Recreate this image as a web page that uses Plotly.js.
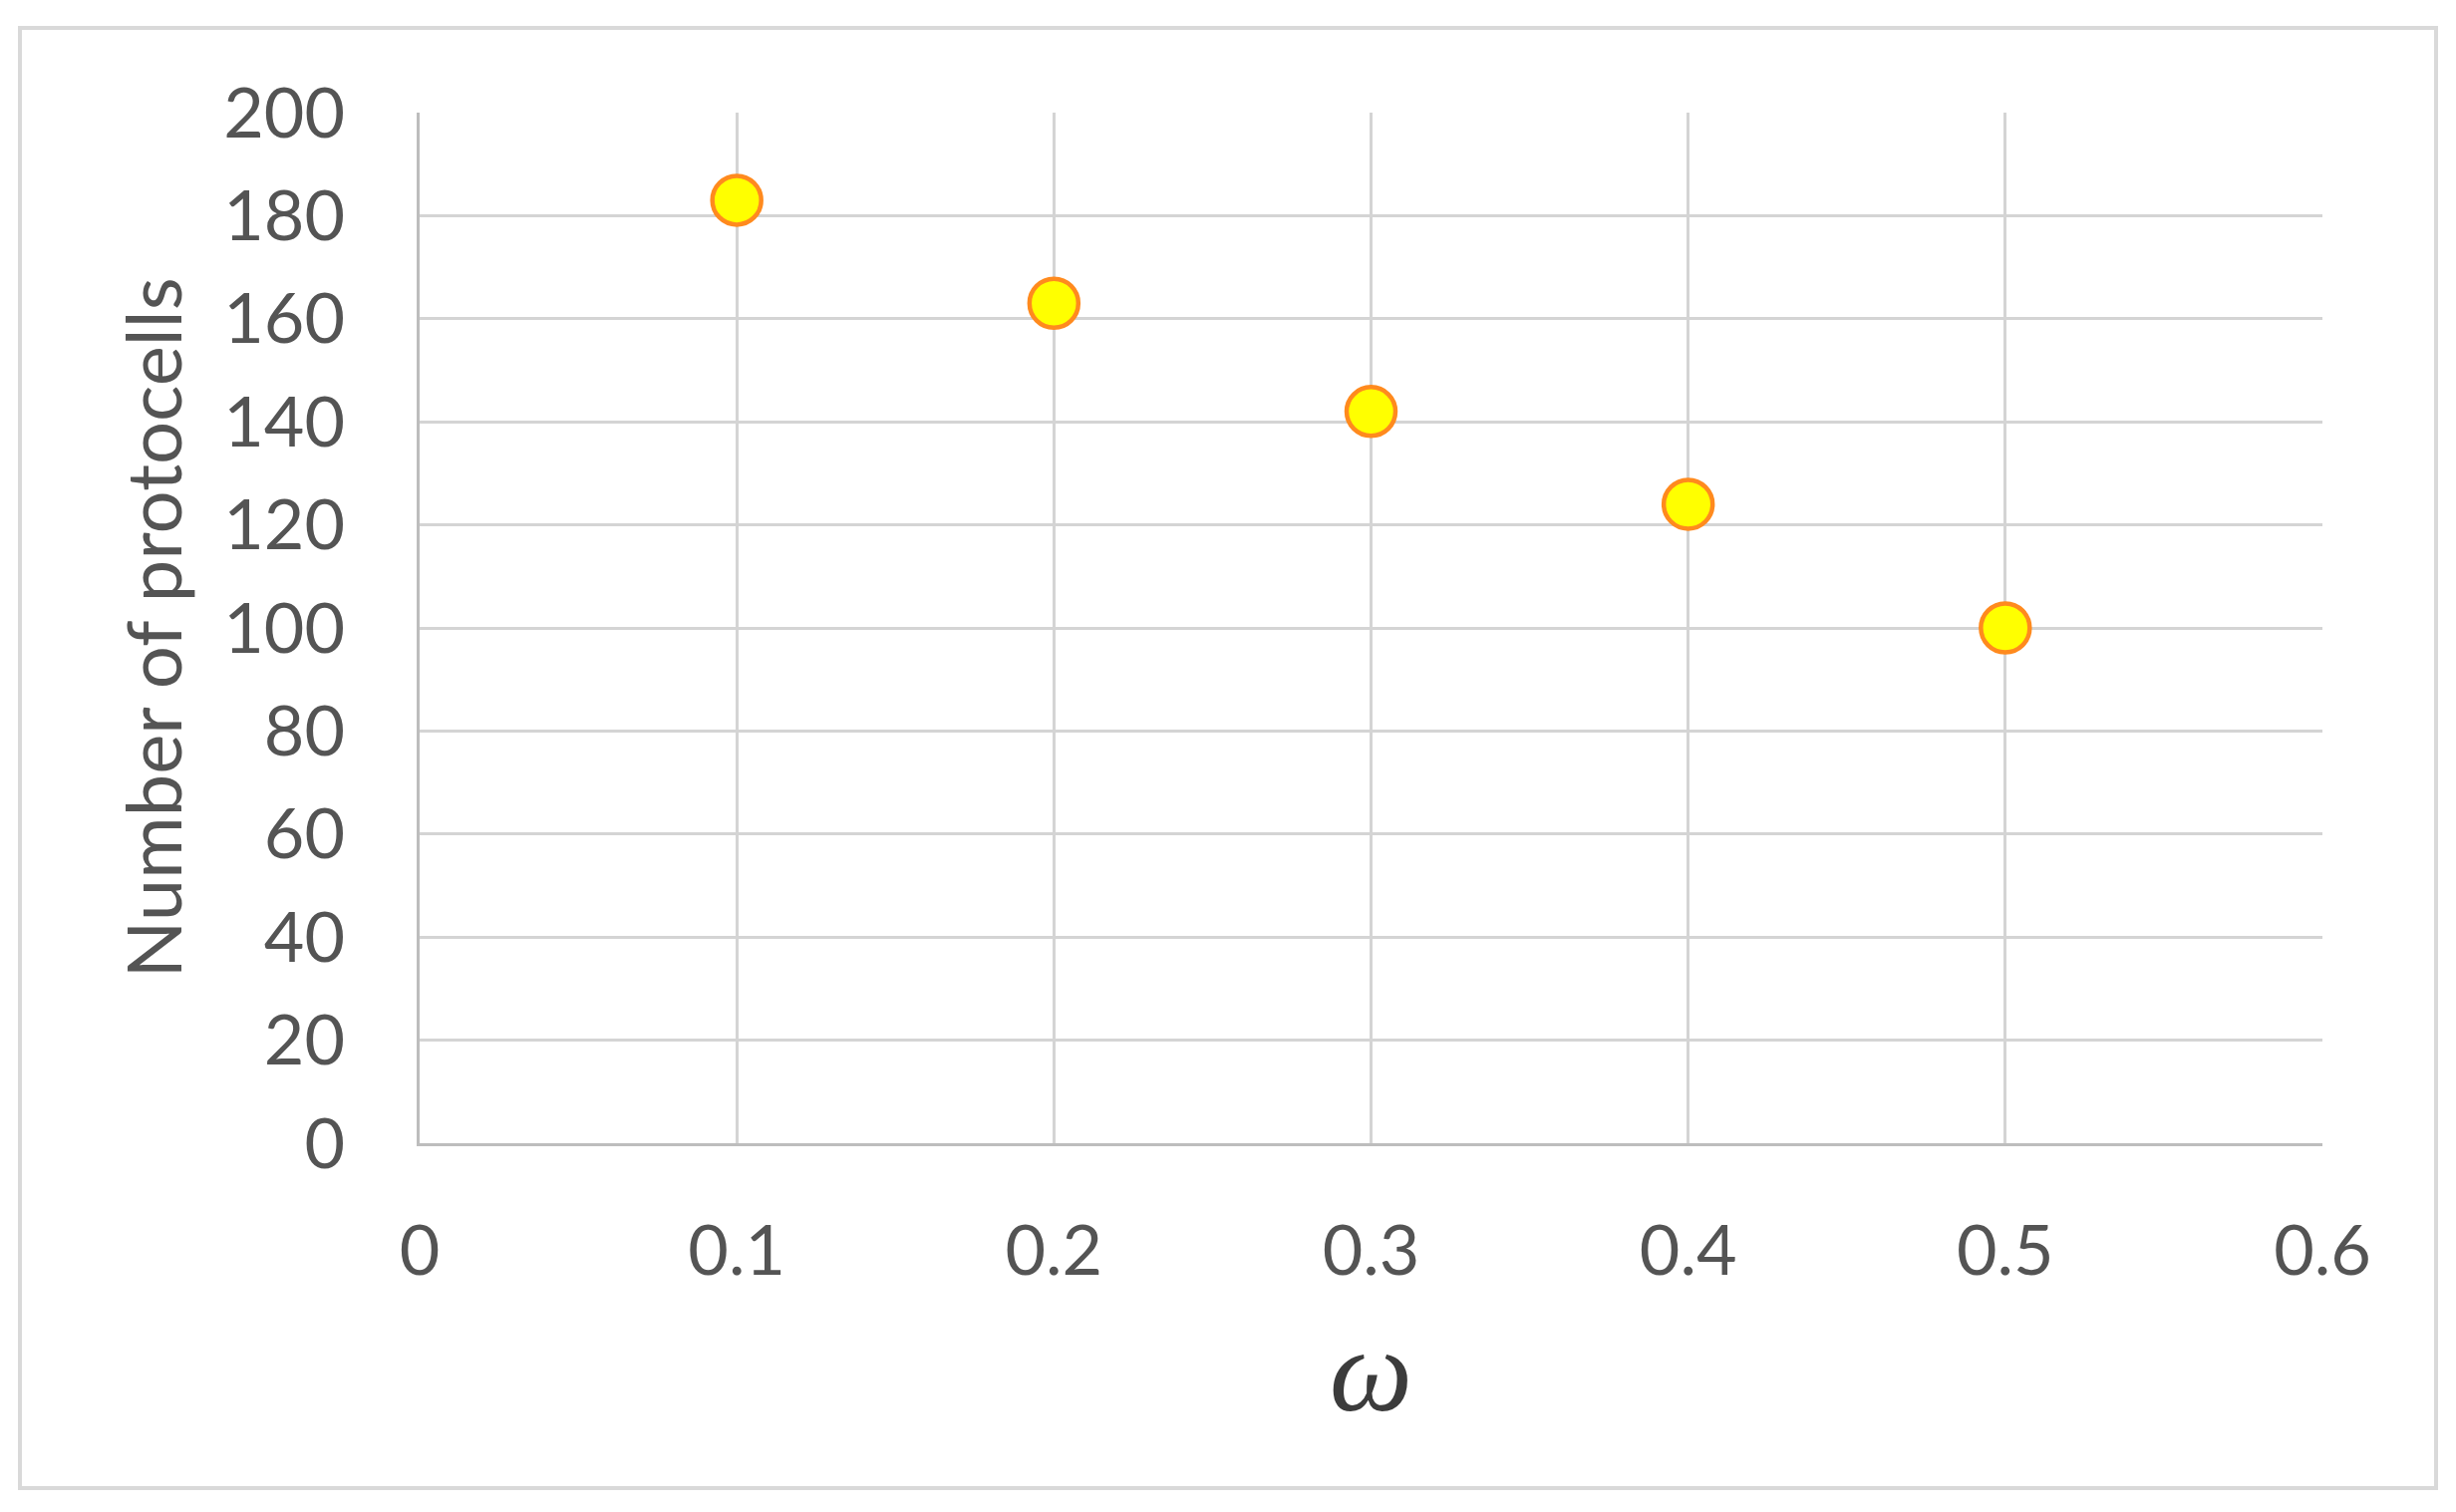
<!DOCTYPE html>
<html>
<head>
<meta charset="utf-8">
<script src="https://cdn.plot.ly/plotly-3.0.1.min.js"></script>
<style>
  html, body { margin: 0; padding: 0; background: #ffffff; }
  #chart { width: 2464px; height: 1517px; }
</style>
</head>
<body>
<div id="chart"></div>
<script>
// ---- data ----
const omega = [0.1, 0.2, 0.3, 0.4, 0.5];
const protocells = [183, 163, 142, 124, 100];
const xTickValues = [0, 0.1, 0.2, 0.3, 0.4, 0.5, 0.6];
const xTickLabels = ["0", "0.1", "0.2", "0.3", "0.4", "0.5", "0.6"];
const yTickValues = [0, 20, 40, 60, 80, 100, 120, 140, 160, 180, 200];
const xTitle = "ω";
const yTitle = "Number of protocells";

// ---- layout geometry (pixels) ----
const W = 2464, H = 1517;
const plotL = 421, plotR = 2330, plotT = 113, plotB = 1147;
const frame = {l: 20, r: 2444, t: 28, b: 1493};
const pw = plotR - plotL, ph = plotB - plotT;
const px2x = p => (p - plotL) / pw;
const py2y = p => (plotB - p) / ph;

const textColor = "#545454";
const gridColor = "#d4d4d4";

const trace = {
  type: "scatter",
  mode: "markers",
  x: omega,
  y: protocells,
  marker: {
    symbol: "circle",
    size: 49,
    color: "#FFFF00",
    line: {color: "#FF8A1E", width: 4.5}
  },
  hoverinfo: "x+y",
  showlegend: false
};

const layout = {
  width: W,
  height: H,
  margin: {l: plotL, r: W - plotR, t: plotT, b: H - plotB, pad: 0},
  paper_bgcolor: "#ffffff",
  plot_bgcolor: "#ffffff",
  font: {family: "Lato, 'Liberation Sans', sans-serif", color: textColor, size: 70},
  showlegend: false,
  xaxis: {
    range: [0, 0.6],
    tickmode: "array",
    tickvals: xTickValues,
    ticktext: xTickLabels,
    showgrid: true,
    gridcolor: gridColor,
    gridwidth: 3,
    zeroline: false,
    showline: true,
    linecolor: "#bdbdbd",
    linewidth: 3,
    ticks: "",
    ticklabelstandoff: 45,
    tickfont: {family: "Lato, sans-serif", size: 70, color: textColor},
    title: {
      text: xTitle,
      font: {family: "'Liberation Serif', 'DejaVu Serif', serif", size: 118, color: "#3c3c3c", style: "italic"},
      standoff: 40
    },
    automargin: false,
    fixedrange: true
  },
  yaxis: {
    range: [0, 200],
    tickmode: "array",
    tickvals: yTickValues,
    showgrid: true,
    gridcolor: gridColor,
    gridwidth: 3,
    zeroline: false,
    showline: true,
    linecolor: "#bdbdbd",
    linewidth: 3,
    ticks: "",
    ticklabelstandoff: 58,
    tickfont: {family: "Lato, sans-serif", size: 70, color: textColor},
    title: {
      text: yTitle,
      font: {family: "Lato, sans-serif", size: 76, color: textColor},
      standoff: 17
    },
    automargin: false,
    fixedrange: true
  },
  shapes: [{
    type: "rect",
    xref: "paper", yref: "paper",
    x0: px2x(frame.l), x1: px2x(frame.r),
    y0: py2y(frame.b), y1: py2y(frame.t),
    line: {color: "#d9d9d9", width: 4},
    fillcolor: "rgba(0,0,0,0)",
    layer: "below"
  }]
};

Plotly.newPlot("chart", [trace], layout, {displayModeBar: false, staticPlot: true});
</script>
</body>
</html>
